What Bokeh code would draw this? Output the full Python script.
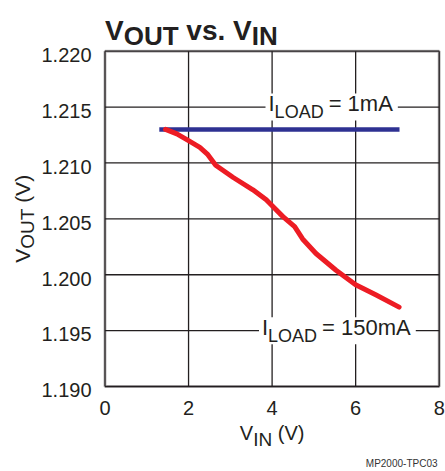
from math import pi
from bokeh.plotting import figure
from bokeh.models import Label, Range1d, BoxAnnotation
from bokeh.embed import file_html
from bokeh.resources import INLINE

# ---------------- data ----------------
vin_1ma = [1.3, 7.05]
vout_1ma = [1.2130, 1.2130]

vin_150ma = [1.45, 1.72, 2.0, 2.27, 2.45, 2.65, 3.07, 3.54, 3.86, 4.02, 4.26,
             4.54, 4.73, 5.05, 5.53, 6.0, 6.48, 7.04]
vout_150ma = [1.2130, 1.2126, 1.2120, 1.2114, 1.2108, 1.2098, 1.2087, 1.2076,
              1.2067, 1.2061, 1.2052, 1.2043, 1.2032, 1.2019, 1.2004, 1.1991,
              1.1982, 1.1971]

x_ticks = [0, 2, 4, 6, 8]
x_tick_labels = ["0", "2", "4", "6", "8"]
y_ticks = [1.190, 1.195, 1.200, 1.205, 1.210, 1.215, 1.220]
y_tick_labels = ["1.190", "1.195", "1.200", "1.205", "1.210", "1.215", "1.220"]

FONT = "Liberation Sans"
INK = "#231f20"

# ---------------- layout (pixels) ----------------
W_PX, H_PX = 445, 471
FL, FR, FT, FB = 104.5, 438.7, 50.7, 386.0   # plot-area box on the canvas
ppx = (FR - FL) / (x_ticks[-1] - x_ticks[0])
ppy = (FB - FT) / (y_ticks[-1] - y_ticks[0])
x_range = Range1d(x_ticks[0] - FL / ppx, x_ticks[-1] + (W_PX - FR) / ppx)
y_range = Range1d(y_ticks[0] - (H_PX - FB) / ppy, y_ticks[-1] + FT / ppy)
BASE_FIX = 0.31   # rendered baseline sits this many em below the anchor

# Arial-compatible advance widths (1/1000 em)
W = {" ": 278, "(": 333, ")": 333, "=": 584, ".": 278, "-": 333,
     "0": 556, "1": 556, "2": 556, "3": 556, "5": 556,
     "A": 667, "C": 722, "D": 722, "I": 278, "L": 556, "M": 833, "N": 722,
     "O": 778, "P": 667, "T": 611, "U": 722, "V": 667, "m": 833, "v": 556, "s": 556}


def tw(s, size):
    return sum(W[c] for c in s) * size / 1000.0


p = figure(width=W_PX, height=H_PX, title=None,
           x_range=x_range, y_range=y_range,
           x_axis_location=None, y_axis_location=None,
           output_backend="svg", toolbar_location=None, min_border=0)
p.background_fill_color = "white"
p.border_fill_color = "white"
p.outline_line_color = None
p.xgrid.visible = False
p.ygrid.visible = False

# grid lines of the plot area, from the tick values
p.segment(x0=x_ticks, y0=[y_ticks[0]] * len(x_ticks),
          x1=x_ticks, y1=[y_ticks[-1]] * len(x_ticks),
          line_color=INK, line_width=1.3, level="underlay")
p.segment(x0=[x_ticks[0]] * len(y_ticks), y0=y_ticks,
          x1=[x_ticks[-1]] * len(y_ticks), y1=y_ticks,
          line_color=INK, line_width=1.3, level="underlay")

# data lines
p.line(vin_1ma, vout_1ma, line_color="#2e3192", line_width=4.5)
p.line(vin_150ma, vout_150ma, line_color="#ed1c24", line_width=5,
       line_join="round", line_cap="round")

# plot-area frame
p.add_layout(BoxAnnotation(left=x_ticks[0], right=x_ticks[-1],
                           bottom=y_ticks[0], top=y_ticks[-1],
                           fill_alpha=0, line_color=INK, line_width=3))


def add_text(text, x, y, xo, yo, size, bold=False, angle=0.0, align="left",
             color=INK):
    if angle == 0:
        yo += BASE_FIX * size
    else:
        xo -= BASE_FIX * size
    p.add_layout(Label(x=x, y=y, x_offset=xo, y_offset=yo, text=text,
                       angle=angle, text_font=FONT,
                       text_font_size=f"{size}px", text_color=color,
                       text_align=align, text_baseline="alphabetic",
                       text_font_style="bold" if bold else "normal"))


def chain_width(pieces):
    return sum(g + tw(t, s) for t, s, _, g in pieces)


def compose(pieces, x, y, xo0, yo0, start=0.0, angle=0.0, bold=False):
    """pieces: (text, size, baseline_shift_down, gap_before)"""
    pos = start
    for text, size, shift, gap in pieces:
        pos += gap
        if angle == 0:
            add_text(text, x, y, xo0 + pos, yo0 - shift, size, bold)
        else:
            add_text(text, x, y, xo0 + shift, yo0 + pos, size, bold, angle)
        pos += tw(text, size)


# tick labels
for t, lab in zip(x_ticks, x_tick_labels):
    add_text(lab, t, y_ticks[0], 0, -28, 20, align="center")
for t, lab in zip(y_ticks, y_tick_labels):
    add_text(lab, x_ticks[0], t, -13.5, -10, 20, align="right")

# title
compose([("V", 28, 0, 0), ("OUT", 26, 5, 0),
         ("vs.", 28, 0, tw(" ", 28)),
         ("V", 28, 0, tw(" ", 28)), ("IN", 26, 5, 0)],
        x=x_ticks[0], y=y_ticks[-1], xo0=0, yo0=12.4, bold=True)

# x axis label
xl = [("V", 20, 0, 0), ("IN", 19, 6.5, 0), ("(V)", 20, 0, tw(" ", 20))]
compose(xl, x=4, y=y_ticks[0], xo0=0, yo0=-52.3, start=-chain_width(xl) / 2)

# y axis label (rotated)
yl = [("V", 21, 0, 0), ("OUT", 19, 5, 0), ("(V)", 21, 0, tw(" ", 21))]
compose(yl, x=x_ticks[0], y=1.205, xo0=-76.2, yo0=0,
        start=-chain_width(yl) / 2, angle=pi / 2)

# curve annotations, each on a white patch that breaks the grid
notes = [
    ([("I", 22, 0, 0), ("LOAD", 18, 7, 0), ("= 1mA", 22, 0, 5)], 3.914, 1.21470),
    ([("I", 22, 0, 0), ("LOAD", 18, 7, 0), ("= 150mA", 22, 0, 5)], 3.758, 1.19467),
]
for pieces, ax, ay in notes:
    w = chain_width(pieces)
    p.add_layout(BoxAnnotation(left=ax - 3 / ppx, right=ax + (w + 5) / ppx,
                               bottom=ay - 10 / ppy, top=ay + 17 / ppy,
                               fill_color="white", fill_alpha=1,
                               line_color=None))
for pieces, ax, ay in notes:
    compose(pieces, x=ax, y=ay, xo0=0, yo0=0)

# figure id
add_text("MP2000-TPC03", x_ticks[-1], y_ticks[0], -1.7, -80.5, 10,
         align="right", color="#333333")

open("out.html", "w").write(file_html(p, INLINE))
